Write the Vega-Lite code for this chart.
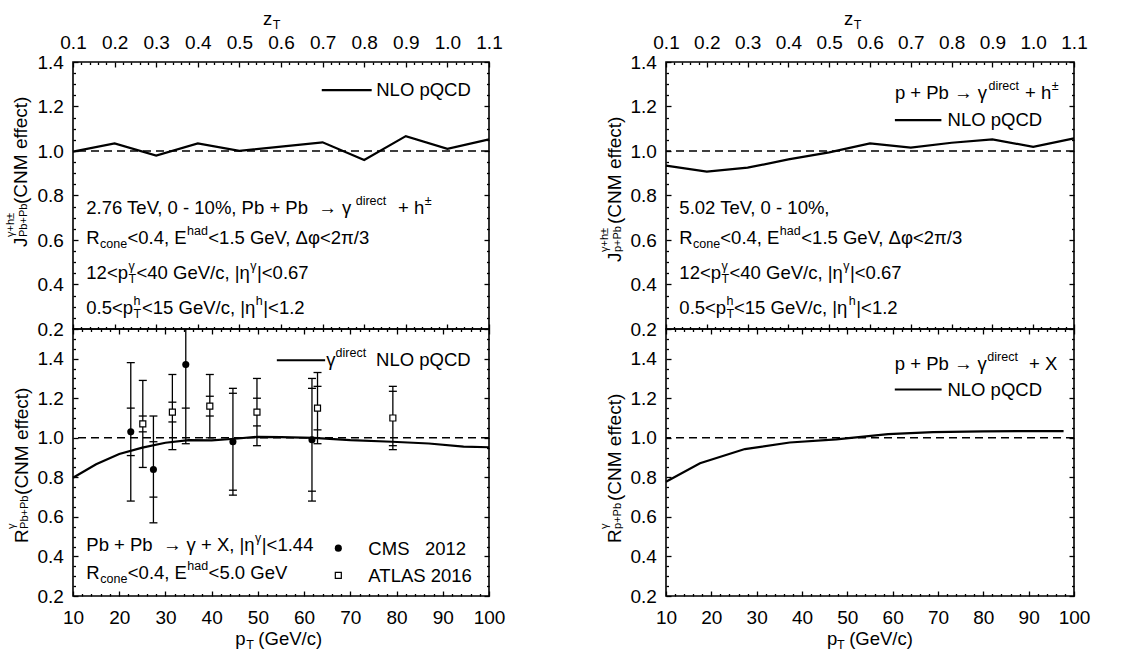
{
"$schema": "https://vega.github.io/schema/vega-lite/v6.json",
"padding": {"left": 4, "top": 8, "right": 5, "bottom": 2},
"config": {
 "view": {"stroke": "black", "strokeWidth": 1.6},
 "font": "Liberation Sans",
 "axis": {"labelFont": "Liberation Sans", "labelFontSize": 19, "labelColor": "black", "tickColor": "black", "tickWidth": 1.3, "domain": false, "grid": false, "labelFlush": false, "labelOverlap": false}
},
"datasets": {
 "ref": [{"v": 1}],
 "jPbPb": [{"z":0.1,"r":0.997},{"z":0.2,"r":1.034},{"z":0.3,"r":0.979},{"z":0.4,"r":1.034},{"z":0.5,"r":1.001},{"z":0.6,"r":1.02},{"z":0.7,"r":1.039},{"z":0.8,"r":0.96},{"z":0.9,"r":1.067},{"z":1.0,"r":1.01},{"z":1.1,"r":1.052}],
 "jpPb": [{"z":0.1,"r":0.934},{"z":0.2,"r":0.907},{"z":0.3,"r":0.925},{"z":0.4,"r":0.962},{"z":0.5,"r":0.994},{"z":0.6,"r":1.034},{"z":0.7,"r":1.015},{"z":0.8,"r":1.037},{"z":0.9,"r":1.052},{"z":1.0,"r":1.019},{"z":1.1,"r":1.057}],
 "rPbPb": [{"pt":10,"r":0.798},{"pt":15,"r":0.866},{"pt":20,"r":0.918},{"pt":25,"r":0.95},{"pt":30,"r":0.975},{"pt":35,"r":0.988},{"pt":40,"r":0.987},{"pt":45,"r":0.995},{"pt":50,"r":1.005},{"pt":55,"r":1.003},{"pt":62,"r":1.0},{"pt":70,"r":0.988},{"pt":79,"r":0.98},{"pt":87,"r":0.971},{"pt":94.5,"r":0.955},{"pt":100,"r":0.952}],
 "rpPb": [{"pt":10,"r":0.778},{"pt":17.5,"r":0.871},{"pt":27.4,"r":0.943},{"pt":37.3,"r":0.976},{"pt":47.6,"r":0.992},{"pt":59,"r":1.018},{"pt":68.9,"r":1.029},{"pt":80,"r":1.032},{"pt":90,"r":1.034},{"pt":97.7,"r":1.034}],
 "cms": [{"pt":22.5,"r":1.03,"lo":0.68,"hi":1.38,"slo":0.91,"shi":1.15},{"pt":27.4,"r":0.84,"lo":0.57,"hi":1.11,"slo":0.7,"shi":0.98},{"pt":34.4,"r":1.37,"lo":0.97,"hi":1.77,"slo":1.15,"shi":1.59},{"pt":44.6,"r":0.98,"lo":0.71,"hi":1.25,"slo":0.735,"shi":1.225},{"pt":61.7,"r":0.99,"lo":0.68,"hi":1.3,"slo":0.73,"shi":1.25}],
 "atlas": [{"pt":25.1,"r":1.07,"lo":0.85,"hi":1.29,"slo":1.03,"shi":1.11},{"pt":31.5,"r":1.13,"lo":0.94,"hi":1.32,"slo":1.08,"shi":1.18},{"pt":39.6,"r":1.16,"lo":1.0,"hi":1.32,"slo":1.11,"shi":1.21},{"pt":49.8,"r":1.13,"lo":0.96,"hi":1.3,"slo":1.06,"shi":1.2},{"pt":62.9,"r":1.15,"lo":0.97,"hi":1.33,"slo":1.04,"shi":1.26},{"pt":79.2,"r":1.1,"lo":0.94,"hi":1.26,"slo":0.96,"shi":1.235}],
 "legCMS": [{"pt":67.4,"r":0.442}],
 "legATLAS": [{"pt":67.4,"r":0.304}],
 "legTL": [{"x1":0.698,"x2":0.818,"y":1.274}],
 "legBL": [{"x1":54.1,"x2":64.55,"y":1.392}],
 "legTR": [{"x1":0.661,"x2":0.775,"y":1.139}],
 "legBR": [{"x1":60.47,"x2":70.8,"y":1.244}],
 "tTL": [
  {"k":"n","t":"NLO pQCD","x":0.829,"y":1.274},
  {"k":"n","t":"2.76 TeV, 0 - 10%, Pb + Pb \u00a0→ γ","x":0.132,"y":0.742},
  {"k":"sup","t":"direct","x":0.7796,"y":0.742},
  {"k":"n","t":"+ h","x":0.8813,"y":0.742},
  {"k":"sup","t":"±","x":0.9454,"y":0.742},
  {"k":"n","t":"R","x":0.132,"y":0.607},
  {"k":"sub","t":"cone","x":0.1649,"y":0.607},
  {"k":"n","t":"<0.4, E","x":0.231,"y":0.607},
  {"k":"sup","t":"had","x":0.374,"y":0.607},
  {"k":"n","t":"<1.5 GeV, Δφ<2π/3","x":0.4252,"y":0.607},
  {"k":"n","t":"12<p","x":0.132,"y":0.45},
  {"k":"sup","t":"γ","x":0.2334,"y":0.45},
  {"k":"sub","t":"T","x":0.2334,"y":0.45},
  {"k":"n","t":"<40 GeV/c, |η","x":0.2526,"y":0.45},
  {"k":"sup","t":"γ","x":0.5262,"y":0.45},
  {"k":"n","t":"|<0.67","x":0.5423,"y":0.45},
  {"k":"n","t":"0.5<p","x":0.132,"y":0.293},
  {"k":"sup","t":"h","x":0.2457,"y":0.293},
  {"k":"sub","t":"T","x":0.2457,"y":0.293},
  {"k":"n","t":"<15 GeV/c, |η","x":0.2659,"y":0.293},
  {"k":"sup","t":"h","x":0.5394,"y":0.293},
  {"k":"n","t":"|<1.2","x":0.5574,"y":0.293},
  {"k":"n","t":"z","x":0.557,"y":1.595},
  {"k":"sub","t":"T","x":0.58,"y":1.595},
  {"k":"rn","t":"J","x":-0.0238,"y":0.569},
  {"k":"rsup","t":"γ+h±","x":-0.0238,"y":0.6135},
  {"k":"rsub","t":"Pb+Pb","x":-0.0238,"y":0.6135},
  {"k":"rn","t":"(CNM effect)","x":-0.0238,"y":0.762}
 ],
 "tBL": [
  {"k":"n","t":"γ","x":64.77,"y":1.392},
  {"k":"sup","t":"direct","x":66.8,"y":1.392},
  {"k":"n","t":"NLO pQCD","x":75.57,"y":1.392},
  {"k":"n","t":"Pb + Pb \u00a0→ γ + X, |η","x":12.88,"y":0.457},
  {"k":"sup","t":"γ","x":49.4,"y":0.457},
  {"k":"n","t":"|<1.44","x":50.85,"y":0.457},
  {"k":"n","t":"R","x":12.88,"y":0.316},
  {"k":"sub","t":"cone","x":15.91,"y":0.316},
  {"k":"n","t":"<0.4, E","x":21.86,"y":0.316},
  {"k":"sup","t":"had","x":34.73,"y":0.316},
  {"k":"n","t":"<5.0 GeV","x":39.34,"y":0.316},
  {"k":"n","t":"CMS\u00a0\u00a0\u00a02012","x":73.9,"y":0.44},
  {"k":"n","t":"ATLAS 2016","x":73.9,"y":0.302},
  {"k":"n","t":"p","x":45.1,"y":-0.018},
  {"k":"sub","t":"T","x":47.5,"y":-0.018},
  {"k":"n","t":"(GeV/c)","x":50.1,"y":-0.018},
  {"k":"rn","t":"R","x":-1.08,"y":0.468},
  {"k":"rsup","t":"γ","x":-1.08,"y":0.539},
  {"k":"rsub","t":"Pb+Pb","x":-1.08,"y":0.539},
  {"k":"rn","t":"(CNM effect)","x":-1.08,"y":0.711}
 ],
 "tTR": [
  {"k":"n","t":"p + Pb → γ","x":0.661,"y":1.259},
  {"k":"sup","t":"direct","x":0.8904,"y":1.259},
  {"k":"n","t":"+ h","x":0.98,"y":1.259},
  {"k":"sup","t":"±","x":1.0453,"y":1.259},
  {"k":"n","t":"NLO pQCD","x":0.79,"y":1.139},
  {"k":"n","t":"5.02 TeV, 0 - 10%,","x":0.1327,"y":0.742},
  {"k":"n","t":"R","x":0.1327,"y":0.607},
  {"k":"sub","t":"cone","x":0.1662,"y":0.607},
  {"k":"n","t":"<0.4, E","x":0.2331,"y":0.607},
  {"k":"sup","t":"had","x":0.3789,"y":0.607},
  {"k":"n","t":"<1.5 GeV, Δφ<2π/3","x":0.4316,"y":0.607},
  {"k":"n","t":"12<p","x":0.1327,"y":0.45},
  {"k":"sup","t":"γ","x":0.236,"y":0.45},
  {"k":"sub","t":"T","x":0.236,"y":0.45},
  {"k":"n","t":"<40 GeV/c, |η","x":0.2556,"y":0.45},
  {"k":"sup","t":"γ","x":0.5346,"y":0.45},
  {"k":"n","t":"|<0.67","x":0.551,"y":0.45},
  {"k":"n","t":"0.5<p","x":0.1327,"y":0.293},
  {"k":"sup","t":"h","x":0.2485,"y":0.293},
  {"k":"sub","t":"T","x":0.2485,"y":0.293},
  {"k":"n","t":"<15 GeV/c, |η","x":0.2667,"y":0.293},
  {"k":"sup","t":"h","x":0.548,"y":0.293},
  {"k":"n","t":"|<1.2","x":0.5664,"y":0.293},
  {"k":"n","t":"z","x":0.536,"y":1.595},
  {"k":"sub","t":"T","x":0.56,"y":1.595},
  {"k":"rn","t":"J","x":-0.025,"y":0.501},
  {"k":"rsup","t":"γ+h±","x":-0.025,"y":0.546},
  {"k":"rsub","t":"p+Pb","x":-0.025,"y":0.546},
  {"k":"rn","t":"(CNM effect)","x":-0.025,"y":0.672}
 ],
 "tBR": [
  {"k":"n","t":"p + Pb → γ","x":60.47,"y":1.375},
  {"k":"sup","t":"direct","x":80.88,"y":1.375},
  {"k":"n","t":"+ X","x":90.08,"y":1.375},
  {"k":"n","t":"NLO pQCD","x":72.08,"y":1.244},
  {"k":"n","t":"p","x":45.5,"y":-0.018},
  {"k":"sub","t":"T","x":47.7,"y":-0.018},
  {"k":"n","t":"(GeV/c)","x":50.4,"y":-0.018},
  {"k":"rn","t":"R","x":-1.25,"y":0.468},
  {"k":"rsup","t":"γ","x":-1.25,"y":0.539},
  {"k":"rsub","t":"p+Pb","x":-1.25,"y":0.539},
  {"k":"rn","t":"(CNM effect)","x":-1.25,"y":0.68}
 ]
},
"bounds": "flush",
"columns": 2,
"spacing": {"row": 0, "column": 177},
"concat": [
  {"width": 416, "height": 267,
   "resolve": {"axis": {"x": "independent", "y": "independent"}},
   "layer": [
    {"data":{"name":"jPbPb"},"mark":{"type":"line","color":"black","strokeWidth":2.2},
     "encoding":{"x":{"field":"z","type":"quantitative","scale":{"domain":[0.1,1.1],"nice":false,"zero":false},"axis":{"orient":"top","values":[0.1,0.2,0.3,0.4,0.5,0.6,0.7,0.8,0.9,1.0,1.1],"format":".1f","tickSize":-5,"labelPadding":14.7,"title":null}},
                 "y":{"field":"r","type":"quantitative","scale":{"domain":[0.2,1.4],"nice":false,"zero":false},"axis":{"orient":"left","values":[0.2,0.4,0.6,0.8,1.0,1.2,1.4],"format":".1f","tickSize":-5,"labelPadding":14.7,"title":null}}}},
    {"data":{"name":"jPbPb"},"mark":{"type":"point","opacity":0},
     "encoding":{"x":{"field":"z","type":"quantitative","scale":{"domain":[0.1,1.1],"nice":false,"zero":false},"axis":{"orient":"top","values":[0.12,0.14,0.16,0.18,0.22,0.24,0.26,0.28,0.32,0.34,0.36,0.38,0.42,0.44,0.46,0.48,0.52,0.54,0.56,0.58,0.62,0.64,0.66,0.68,0.72,0.74,0.76,0.78,0.82,0.84,0.86,0.88,0.92,0.94,0.96,0.98,1.02,1.04,1.06,1.08],"tickSize":-2.5,"labels":false,"title":null}},
                 "y":{"field":"r","type":"quantitative","scale":{"domain":[0.2,1.4],"nice":false,"zero":false},"axis":{"orient":"left","values":[0.25,0.3,0.35,0.45,0.5,0.55,0.65,0.7,0.75,0.85,0.9,0.95,1.05,1.1,1.15,1.25,1.3,1.35],"tickSize":-2.5,"labels":false,"title":null}}}},
    {"data":{"name":"jPbPb"},"mark":{"type":"point","opacity":0},
     "encoding":{"x":{"field":"z","type":"quantitative","scale":{"domain":[0.1,1.1],"nice":false,"zero":false},"axis":{"orient":"bottom","values":[0.1,0.2,0.3,0.4,0.5,0.6,0.7,0.8,0.9,1.0,1.1],"tickSize":-5,"labels":false,"title":null}},
                 "y":{"field":"r","type":"quantitative","scale":{"domain":[0.2,1.4],"nice":false,"zero":false},"axis":{"orient":"right","values":[0.2,0.4,0.6,0.8,1.0,1.2,1.4],"tickSize":-5,"labels":false,"title":null}}}},
    {"data":{"name":"jPbPb"},"mark":{"type":"point","opacity":0},
     "encoding":{"x":{"field":"z","type":"quantitative","scale":{"domain":[0.1,1.1],"nice":false,"zero":false},"axis":{"orient":"bottom","values":[0.12,0.14,0.16,0.18,0.22,0.24,0.26,0.28,0.32,0.34,0.36,0.38,0.42,0.44,0.46,0.48,0.52,0.54,0.56,0.58,0.62,0.64,0.66,0.68,0.72,0.74,0.76,0.78,0.82,0.84,0.86,0.88,0.92,0.94,0.96,0.98,1.02,1.04,1.06,1.08],"tickSize":-2.5,"labels":false,"title":null}},
                 "y":{"field":"r","type":"quantitative","scale":{"domain":[0.2,1.4],"nice":false,"zero":false},"axis":{"orient":"right","values":[0.25,0.3,0.35,0.45,0.5,0.55,0.65,0.7,0.75,0.85,0.9,0.95,1.05,1.1,1.15,1.25,1.3,1.35],"tickSize":-2.5,"labels":false,"title":null}}}},
    {"data":{"name":"ref"},"mark":{"type":"rule","color":"black","strokeWidth":1.5,"strokeDash":[8,5]},
     "encoding":{"y":{"field":"v","type":"quantitative","scale":{"domain":[0.2,1.4],"nice":false,"zero":false},"axis":null}}},
    {"data":{"name":"legTL"},"mark":{"type":"rule","color":"black","strokeWidth":2.2},
     "encoding":{"x":{"field":"x1","type":"quantitative","scale":{"domain":[0.1,1.1],"nice":false,"zero":false},"axis":null},"x2":{"field":"x2"},"y":{"field":"y","type":"quantitative","scale":{"domain":[0.2,1.4],"nice":false,"zero":false},"axis":null}}},
    {"data":{"name":"tTL"},"transform":[{"filter":"datum.k=='n'"}],"mark":{"type":"text","align":"left","baseline":"middle","fontSize":18.5,"font":"Liberation Sans","color":"black"},
     "encoding":{"x":{"field":"x","type":"quantitative","scale":{"domain":[0.1,1.1],"nice":false,"zero":false},"axis":null},"y":{"field":"y","type":"quantitative","scale":{"domain":[0.2,1.4],"nice":false,"zero":false},"axis":null},"text":{"field":"t"}}},
    {"data":{"name":"tTL"},"transform":[{"filter":"datum.k=='sup'"}],"mark":{"type":"text","align":"left","baseline":"middle","fontSize":12.5,"dy":-7,"font":"Liberation Sans","color":"black"},
     "encoding":{"x":{"field":"x","type":"quantitative","scale":{"domain":[0.1,1.1],"nice":false,"zero":false},"axis":null},"y":{"field":"y","type":"quantitative","scale":{"domain":[0.2,1.4],"nice":false,"zero":false},"axis":null},"text":{"field":"t"}}},
    {"data":{"name":"tTL"},"transform":[{"filter":"datum.k=='sub'"}],"mark":{"type":"text","align":"left","baseline":"middle","fontSize":12.5,"dy":6,"font":"Liberation Sans","color":"black"},
     "encoding":{"x":{"field":"x","type":"quantitative","scale":{"domain":[0.1,1.1],"nice":false,"zero":false},"axis":null},"y":{"field":"y","type":"quantitative","scale":{"domain":[0.2,1.4],"nice":false,"zero":false},"axis":null},"text":{"field":"t"}}},
    {"data":{"name":"tTL"},"transform":[{"filter":"datum.k=='rn'"}],"mark":{"type":"text","align":"left","baseline":"middle","angle":270,"fontSize":19,"font":"Liberation Sans","color":"black"},
     "encoding":{"x":{"field":"x","type":"quantitative","scale":{"domain":[0.1,1.1],"nice":false,"zero":false},"axis":null},"y":{"field":"y","type":"quantitative","scale":{"domain":[0.2,1.4],"nice":false,"zero":false},"axis":null},"text":{"field":"t"}}},
    {"data":{"name":"tTL"},"transform":[{"filter":"datum.k=='rsup'"}],"mark":{"type":"text","align":"left","baseline":"middle","angle":270,"fontSize":11,"dy":-10,"font":"Liberation Sans","color":"black"},
     "encoding":{"x":{"field":"x","type":"quantitative","scale":{"domain":[0.1,1.1],"nice":false,"zero":false},"axis":null},"y":{"field":"y","type":"quantitative","scale":{"domain":[0.2,1.4],"nice":false,"zero":false},"axis":null},"text":{"field":"t"}}},
    {"data":{"name":"tTL"},"transform":[{"filter":"datum.k=='rsub'"}],"mark":{"type":"text","align":"left","baseline":"middle","angle":270,"fontSize":11,"dy":3,"font":"Liberation Sans","color":"black"},
     "encoding":{"x":{"field":"x","type":"quantitative","scale":{"domain":[0.1,1.1],"nice":false,"zero":false},"axis":null},"y":{"field":"y","type":"quantitative","scale":{"domain":[0.2,1.4],"nice":false,"zero":false},"axis":null},"text":{"field":"t"}}}
   ]},
  {"width": 408, "height": 267,
   "resolve": {"axis": {"x": "independent", "y": "independent"}},
   "layer": [
    {"data":{"name":"jpPb"},"mark":{"type":"line","color":"black","strokeWidth":2.2},
     "encoding":{"x":{"field":"z","type":"quantitative","scale":{"domain":[0.1,1.1],"nice":false,"zero":false},"axis":{"orient":"top","values":[0.1,0.2,0.3,0.4,0.5,0.6,0.7,0.8,0.9,1.0,1.1],"format":".1f","tickSize":-5,"labelPadding":14.7,"title":null}},
                 "y":{"field":"r","type":"quantitative","scale":{"domain":[0.2,1.4],"nice":false,"zero":false},"axis":{"orient":"left","values":[0.2,0.4,0.6,0.8,1.0,1.2,1.4],"format":".1f","tickSize":-5,"labelPadding":14.7,"title":null}}}},
    {"data":{"name":"jpPb"},"mark":{"type":"point","opacity":0},
     "encoding":{"x":{"field":"z","type":"quantitative","scale":{"domain":[0.1,1.1],"nice":false,"zero":false},"axis":{"orient":"top","values":[0.12,0.14,0.16,0.18,0.22,0.24,0.26,0.28,0.32,0.34,0.36,0.38,0.42,0.44,0.46,0.48,0.52,0.54,0.56,0.58,0.62,0.64,0.66,0.68,0.72,0.74,0.76,0.78,0.82,0.84,0.86,0.88,0.92,0.94,0.96,0.98,1.02,1.04,1.06,1.08],"tickSize":-2.5,"labels":false,"title":null}},
                 "y":{"field":"r","type":"quantitative","scale":{"domain":[0.2,1.4],"nice":false,"zero":false},"axis":{"orient":"left","values":[0.25,0.3,0.35,0.45,0.5,0.55,0.65,0.7,0.75,0.85,0.9,0.95,1.05,1.1,1.15,1.25,1.3,1.35],"tickSize":-2.5,"labels":false,"title":null}}}},
    {"data":{"name":"jpPb"},"mark":{"type":"point","opacity":0},
     "encoding":{"x":{"field":"z","type":"quantitative","scale":{"domain":[0.1,1.1],"nice":false,"zero":false},"axis":{"orient":"bottom","values":[0.1,0.2,0.3,0.4,0.5,0.6,0.7,0.8,0.9,1.0,1.1],"tickSize":-5,"labels":false,"title":null}},
                 "y":{"field":"r","type":"quantitative","scale":{"domain":[0.2,1.4],"nice":false,"zero":false},"axis":{"orient":"right","values":[0.2,0.4,0.6,0.8,1.0,1.2,1.4],"tickSize":-5,"labels":false,"title":null}}}},
    {"data":{"name":"jpPb"},"mark":{"type":"point","opacity":0},
     "encoding":{"x":{"field":"z","type":"quantitative","scale":{"domain":[0.1,1.1],"nice":false,"zero":false},"axis":{"orient":"bottom","values":[0.12,0.14,0.16,0.18,0.22,0.24,0.26,0.28,0.32,0.34,0.36,0.38,0.42,0.44,0.46,0.48,0.52,0.54,0.56,0.58,0.62,0.64,0.66,0.68,0.72,0.74,0.76,0.78,0.82,0.84,0.86,0.88,0.92,0.94,0.96,0.98,1.02,1.04,1.06,1.08],"tickSize":-2.5,"labels":false,"title":null}},
                 "y":{"field":"r","type":"quantitative","scale":{"domain":[0.2,1.4],"nice":false,"zero":false},"axis":{"orient":"right","values":[0.25,0.3,0.35,0.45,0.5,0.55,0.65,0.7,0.75,0.85,0.9,0.95,1.05,1.1,1.15,1.25,1.3,1.35],"tickSize":-2.5,"labels":false,"title":null}}}},
    {"data":{"name":"ref"},"mark":{"type":"rule","color":"black","strokeWidth":1.5,"strokeDash":[8,5]},
     "encoding":{"y":{"field":"v","type":"quantitative","scale":{"domain":[0.2,1.4],"nice":false,"zero":false},"axis":null}}},
    {"data":{"name":"legTR"},"mark":{"type":"rule","color":"black","strokeWidth":2.2},
     "encoding":{"x":{"field":"x1","type":"quantitative","scale":{"domain":[0.1,1.1],"nice":false,"zero":false},"axis":null},"x2":{"field":"x2"},"y":{"field":"y","type":"quantitative","scale":{"domain":[0.2,1.4],"nice":false,"zero":false},"axis":null}}},
    {"data":{"name":"tTR"},"transform":[{"filter":"datum.k=='n'"}],"mark":{"type":"text","align":"left","baseline":"middle","fontSize":18.5,"font":"Liberation Sans","color":"black"},
     "encoding":{"x":{"field":"x","type":"quantitative","scale":{"domain":[0.1,1.1],"nice":false,"zero":false},"axis":null},"y":{"field":"y","type":"quantitative","scale":{"domain":[0.2,1.4],"nice":false,"zero":false},"axis":null},"text":{"field":"t"}}},
    {"data":{"name":"tTR"},"transform":[{"filter":"datum.k=='sup'"}],"mark":{"type":"text","align":"left","baseline":"middle","fontSize":12.5,"dy":-7,"font":"Liberation Sans","color":"black"},
     "encoding":{"x":{"field":"x","type":"quantitative","scale":{"domain":[0.1,1.1],"nice":false,"zero":false},"axis":null},"y":{"field":"y","type":"quantitative","scale":{"domain":[0.2,1.4],"nice":false,"zero":false},"axis":null},"text":{"field":"t"}}},
    {"data":{"name":"tTR"},"transform":[{"filter":"datum.k=='sub'"}],"mark":{"type":"text","align":"left","baseline":"middle","fontSize":12.5,"dy":6,"font":"Liberation Sans","color":"black"},
     "encoding":{"x":{"field":"x","type":"quantitative","scale":{"domain":[0.1,1.1],"nice":false,"zero":false},"axis":null},"y":{"field":"y","type":"quantitative","scale":{"domain":[0.2,1.4],"nice":false,"zero":false},"axis":null},"text":{"field":"t"}}},
    {"data":{"name":"tTR"},"transform":[{"filter":"datum.k=='rn'"}],"mark":{"type":"text","align":"left","baseline":"middle","angle":270,"fontSize":19,"font":"Liberation Sans","color":"black"},
     "encoding":{"x":{"field":"x","type":"quantitative","scale":{"domain":[0.1,1.1],"nice":false,"zero":false},"axis":null},"y":{"field":"y","type":"quantitative","scale":{"domain":[0.2,1.4],"nice":false,"zero":false},"axis":null},"text":{"field":"t"}}},
    {"data":{"name":"tTR"},"transform":[{"filter":"datum.k=='rsup'"}],"mark":{"type":"text","align":"left","baseline":"middle","angle":270,"fontSize":11,"dy":-10,"font":"Liberation Sans","color":"black"},
     "encoding":{"x":{"field":"x","type":"quantitative","scale":{"domain":[0.1,1.1],"nice":false,"zero":false},"axis":null},"y":{"field":"y","type":"quantitative","scale":{"domain":[0.2,1.4],"nice":false,"zero":false},"axis":null},"text":{"field":"t"}}},
    {"data":{"name":"tTR"},"transform":[{"filter":"datum.k=='rsub'"}],"mark":{"type":"text","align":"left","baseline":"middle","angle":270,"fontSize":11,"dy":3,"font":"Liberation Sans","color":"black"},
     "encoding":{"x":{"field":"x","type":"quantitative","scale":{"domain":[0.1,1.1],"nice":false,"zero":false},"axis":null},"y":{"field":"y","type":"quantitative","scale":{"domain":[0.2,1.4],"nice":false,"zero":false},"axis":null},"text":{"field":"t"}}}
   ]},
  {"width": 416, "height": 267,
   "resolve": {"axis": {"x": "independent", "y": "independent"}},
   "layer": [
    {"data":{"name":"rPbPb"},"mark":{"type":"line","color":"black","strokeWidth":2.2},
     "encoding":{"x":{"field":"pt","type":"quantitative","scale":{"domain":[10,100],"nice":false,"zero":false},"axis":{"orient":"bottom","values":[10,20,30,40,50,60,70,80,90,100],"format":"d","tickSize":-5,"labelPadding":17.4,"title":null}},
                 "y":{"field":"r","type":"quantitative","scale":{"domain":[0.2,1.55],"nice":false,"zero":false},"axis":{"orient":"left","values":[0.2,0.4,0.6,0.8,1.0,1.2,1.4],"format":".1f","tickSize":-5,"labelPadding":14.7,"title":null}}}},
    {"data":{"name":"rPbPb"},"mark":{"type":"point","opacity":0},
     "encoding":{"x":{"field":"pt","type":"quantitative","scale":{"domain":[10,100],"nice":false,"zero":false},"axis":{"orient":"bottom","values":[12,14,16,18,22,24,26,28,32,34,36,38,42,44,46,48,52,54,56,58,62,64,66,68,72,74,76,78,82,84,86,88,92,94,96,98],"tickSize":-2.5,"labels":false,"title":null}},
                 "y":{"field":"r","type":"quantitative","scale":{"domain":[0.2,1.55],"nice":false,"zero":false},"axis":{"orient":"left","values":[0.25,0.3,0.35,0.45,0.5,0.55,0.65,0.7,0.75,0.85,0.9,0.95,1.05,1.1,1.15,1.25,1.3,1.35,1.45,1.5],"tickSize":-2.5,"labels":false,"title":null}}}},
    {"data":{"name":"rPbPb"},"mark":{"type":"point","opacity":0},
     "encoding":{"x":{"field":"pt","type":"quantitative","scale":{"domain":[10,100],"nice":false,"zero":false},"axis":{"orient":"top","values":[10,20,30,40,50,60,70,80,90,100],"tickSize":-5,"labels":false,"title":null}},
                 "y":{"field":"r","type":"quantitative","scale":{"domain":[0.2,1.55],"nice":false,"zero":false},"axis":{"orient":"right","values":[0.2,0.4,0.6,0.8,1.0,1.2,1.4],"tickSize":-5,"labels":false,"title":null}}}},
    {"data":{"name":"rPbPb"},"mark":{"type":"point","opacity":0},
     "encoding":{"x":{"field":"pt","type":"quantitative","scale":{"domain":[10,100],"nice":false,"zero":false},"axis":{"orient":"top","values":[12,14,16,18,22,24,26,28,32,34,36,38,42,44,46,48,52,54,56,58,62,64,66,68,72,74,76,78,82,84,86,88,92,94,96,98],"tickSize":-2.5,"labels":false,"title":null}},
                 "y":{"field":"r","type":"quantitative","scale":{"domain":[0.2,1.55],"nice":false,"zero":false},"axis":{"orient":"right","values":[0.25,0.3,0.35,0.45,0.5,0.55,0.65,0.7,0.75,0.85,0.9,0.95,1.05,1.1,1.15,1.25,1.3,1.35,1.45,1.5],"tickSize":-2.5,"labels":false,"title":null}}}},
    {"data":{"name":"ref"},"mark":{"type":"rule","color":"black","strokeWidth":1.5,"strokeDash":[8,5]},
     "encoding":{"y":{"field":"v","type":"quantitative","scale":{"domain":[0.2,1.55],"nice":false,"zero":false},"axis":null}}},
    {"data":{"name":"cms"},"mark":{"type":"rule","color":"black","strokeWidth":1.3,"clip":true},
     "encoding":{"x":{"field":"pt","type":"quantitative","scale":{"domain":[10,100],"nice":false,"zero":false},"axis":null},"y":{"field":"lo","type":"quantitative","scale":{"domain":[0.2,1.55],"nice":false,"zero":false},"axis":null},"y2":{"field":"hi"}}},
    {"data":{"name":"atlas"},"mark":{"type":"rule","color":"black","strokeWidth":1.3,"clip":true},
     "encoding":{"x":{"field":"pt","type":"quantitative","scale":{"domain":[10,100],"nice":false,"zero":false},"axis":null},"y":{"field":"lo","type":"quantitative","scale":{"domain":[0.2,1.55],"nice":false,"zero":false},"axis":null},"y2":{"field":"hi"}}},
    {"data":{"name":"cms"},"transform":[{"fold":["lo","hi","slo","shi"],"as":["key","val"]}],"mark":{"type":"tick","orient":"horizontal","color":"black","size":8,"thickness":1.3,"opacity":1,"clip":true},
     "encoding":{"x":{"field":"pt","type":"quantitative","scale":{"domain":[10,100],"nice":false,"zero":false},"axis":null},"y":{"field":"val","type":"quantitative","scale":{"domain":[0.2,1.55],"nice":false,"zero":false},"axis":null}}},
    {"data":{"name":"atlas"},"transform":[{"fold":["lo","hi","slo","shi"],"as":["key","val"]}],"mark":{"type":"tick","orient":"horizontal","color":"black","size":8,"thickness":1.3,"opacity":1,"clip":true},
     "encoding":{"x":{"field":"pt","type":"quantitative","scale":{"domain":[10,100],"nice":false,"zero":false},"axis":null},"y":{"field":"val","type":"quantitative","scale":{"domain":[0.2,1.55],"nice":false,"zero":false},"axis":null}}},
    {"data":{"name":"cms"},"mark":{"type":"point","shape":"circle","filled":true,"color":"black","size":50,"opacity":1},
     "encoding":{"x":{"field":"pt","type":"quantitative","scale":{"domain":[10,100],"nice":false,"zero":false},"axis":null},"y":{"field":"r","type":"quantitative","scale":{"domain":[0.2,1.55],"nice":false,"zero":false},"axis":null}}},
    {"data":{"name":"atlas"},"mark":{"type":"point","shape":"square","filled":true,"fill":"white","stroke":"black","strokeWidth":1.2,"size":36,"opacity":1},
     "encoding":{"x":{"field":"pt","type":"quantitative","scale":{"domain":[10,100],"nice":false,"zero":false},"axis":null},"y":{"field":"r","type":"quantitative","scale":{"domain":[0.2,1.55],"nice":false,"zero":false},"axis":null}}},
    {"data":{"name":"legCMS"},"mark":{"type":"point","shape":"circle","filled":true,"color":"black","size":50,"opacity":1},
     "encoding":{"x":{"field":"pt","type":"quantitative","scale":{"domain":[10,100],"nice":false,"zero":false},"axis":null},"y":{"field":"r","type":"quantitative","scale":{"domain":[0.2,1.55],"nice":false,"zero":false},"axis":null}}},
    {"data":{"name":"legATLAS"},"mark":{"type":"point","shape":"square","filled":true,"fill":"white","stroke":"black","strokeWidth":1.2,"size":36,"opacity":1},
     "encoding":{"x":{"field":"pt","type":"quantitative","scale":{"domain":[10,100],"nice":false,"zero":false},"axis":null},"y":{"field":"r","type":"quantitative","scale":{"domain":[0.2,1.55],"nice":false,"zero":false},"axis":null}}},
    {"data":{"name":"legBL"},"mark":{"type":"rule","color":"black","strokeWidth":2.2},
     "encoding":{"x":{"field":"x1","type":"quantitative","scale":{"domain":[10,100],"nice":false,"zero":false},"axis":null},"x2":{"field":"x2"},"y":{"field":"y","type":"quantitative","scale":{"domain":[0.2,1.55],"nice":false,"zero":false},"axis":null}}},
    {"data":{"name":"tBL"},"transform":[{"filter":"datum.k=='n'"}],"mark":{"type":"text","align":"left","baseline":"middle","fontSize":18.5,"font":"Liberation Sans","color":"black"},
     "encoding":{"x":{"field":"x","type":"quantitative","scale":{"domain":[10,100],"nice":false,"zero":false},"axis":null},"y":{"field":"y","type":"quantitative","scale":{"domain":[0.2,1.55],"nice":false,"zero":false},"axis":null},"text":{"field":"t"}}},
    {"data":{"name":"tBL"},"transform":[{"filter":"datum.k=='sup'"}],"mark":{"type":"text","align":"left","baseline":"middle","fontSize":12.5,"dy":-7,"font":"Liberation Sans","color":"black"},
     "encoding":{"x":{"field":"x","type":"quantitative","scale":{"domain":[10,100],"nice":false,"zero":false},"axis":null},"y":{"field":"y","type":"quantitative","scale":{"domain":[0.2,1.55],"nice":false,"zero":false},"axis":null},"text":{"field":"t"}}},
    {"data":{"name":"tBL"},"transform":[{"filter":"datum.k=='sub'"}],"mark":{"type":"text","align":"left","baseline":"middle","fontSize":12.5,"dy":6,"font":"Liberation Sans","color":"black"},
     "encoding":{"x":{"field":"x","type":"quantitative","scale":{"domain":[10,100],"nice":false,"zero":false},"axis":null},"y":{"field":"y","type":"quantitative","scale":{"domain":[0.2,1.55],"nice":false,"zero":false},"axis":null},"text":{"field":"t"}}},
    {"data":{"name":"tBL"},"transform":[{"filter":"datum.k=='rn'"}],"mark":{"type":"text","align":"left","baseline":"middle","angle":270,"fontSize":19,"font":"Liberation Sans","color":"black"},
     "encoding":{"x":{"field":"x","type":"quantitative","scale":{"domain":[10,100],"nice":false,"zero":false},"axis":null},"y":{"field":"y","type":"quantitative","scale":{"domain":[0.2,1.55],"nice":false,"zero":false},"axis":null},"text":{"field":"t"}}},
    {"data":{"name":"tBL"},"transform":[{"filter":"datum.k=='rsup'"}],"mark":{"type":"text","align":"left","baseline":"middle","angle":270,"fontSize":11,"dy":-10,"font":"Liberation Sans","color":"black"},
     "encoding":{"x":{"field":"x","type":"quantitative","scale":{"domain":[10,100],"nice":false,"zero":false},"axis":null},"y":{"field":"y","type":"quantitative","scale":{"domain":[0.2,1.55],"nice":false,"zero":false},"axis":null},"text":{"field":"t"}}},
    {"data":{"name":"tBL"},"transform":[{"filter":"datum.k=='rsub'"}],"mark":{"type":"text","align":"left","baseline":"middle","angle":270,"fontSize":11,"dy":3,"font":"Liberation Sans","color":"black"},
     "encoding":{"x":{"field":"x","type":"quantitative","scale":{"domain":[10,100],"nice":false,"zero":false},"axis":null},"y":{"field":"y","type":"quantitative","scale":{"domain":[0.2,1.55],"nice":false,"zero":false},"axis":null},"text":{"field":"t"}}}
   ]},
  {"width": 408, "height": 267,
   "resolve": {"axis": {"x": "independent", "y": "independent"}},
   "layer": [
    {"data":{"name":"rpPb"},"mark":{"type":"line","color":"black","strokeWidth":2.2},
     "encoding":{"x":{"field":"pt","type":"quantitative","scale":{"domain":[10,100],"nice":false,"zero":false},"axis":{"orient":"bottom","values":[10,20,30,40,50,60,70,80,90,100],"format":"d","tickSize":-5,"labelPadding":17.4,"title":null}},
                 "y":{"field":"r","type":"quantitative","scale":{"domain":[0.2,1.55],"nice":false,"zero":false},"axis":{"orient":"left","values":[0.2,0.4,0.6,0.8,1.0,1.2,1.4],"format":".1f","tickSize":-5,"labelPadding":14.7,"title":null}}}},
    {"data":{"name":"rpPb"},"mark":{"type":"point","opacity":0},
     "encoding":{"x":{"field":"pt","type":"quantitative","scale":{"domain":[10,100],"nice":false,"zero":false},"axis":{"orient":"bottom","values":[12,14,16,18,22,24,26,28,32,34,36,38,42,44,46,48,52,54,56,58,62,64,66,68,72,74,76,78,82,84,86,88,92,94,96,98],"tickSize":-2.5,"labels":false,"title":null}},
                 "y":{"field":"r","type":"quantitative","scale":{"domain":[0.2,1.55],"nice":false,"zero":false},"axis":{"orient":"left","values":[0.25,0.3,0.35,0.45,0.5,0.55,0.65,0.7,0.75,0.85,0.9,0.95,1.05,1.1,1.15,1.25,1.3,1.35,1.45,1.5],"tickSize":-2.5,"labels":false,"title":null}}}},
    {"data":{"name":"rpPb"},"mark":{"type":"point","opacity":0},
     "encoding":{"x":{"field":"pt","type":"quantitative","scale":{"domain":[10,100],"nice":false,"zero":false},"axis":{"orient":"top","values":[10,20,30,40,50,60,70,80,90,100],"tickSize":-5,"labels":false,"title":null}},
                 "y":{"field":"r","type":"quantitative","scale":{"domain":[0.2,1.55],"nice":false,"zero":false},"axis":{"orient":"right","values":[0.2,0.4,0.6,0.8,1.0,1.2,1.4],"tickSize":-5,"labels":false,"title":null}}}},
    {"data":{"name":"rpPb"},"mark":{"type":"point","opacity":0},
     "encoding":{"x":{"field":"pt","type":"quantitative","scale":{"domain":[10,100],"nice":false,"zero":false},"axis":{"orient":"top","values":[12,14,16,18,22,24,26,28,32,34,36,38,42,44,46,48,52,54,56,58,62,64,66,68,72,74,76,78,82,84,86,88,92,94,96,98],"tickSize":-2.5,"labels":false,"title":null}},
                 "y":{"field":"r","type":"quantitative","scale":{"domain":[0.2,1.55],"nice":false,"zero":false},"axis":{"orient":"right","values":[0.25,0.3,0.35,0.45,0.5,0.55,0.65,0.7,0.75,0.85,0.9,0.95,1.05,1.1,1.15,1.25,1.3,1.35,1.45,1.5],"tickSize":-2.5,"labels":false,"title":null}}}},
    {"data":{"name":"ref"},"mark":{"type":"rule","color":"black","strokeWidth":1.5,"strokeDash":[8,5]},
     "encoding":{"y":{"field":"v","type":"quantitative","scale":{"domain":[0.2,1.55],"nice":false,"zero":false},"axis":null}}},
    {"data":{"name":"legBR"},"mark":{"type":"rule","color":"black","strokeWidth":2.2},
     "encoding":{"x":{"field":"x1","type":"quantitative","scale":{"domain":[10,100],"nice":false,"zero":false},"axis":null},"x2":{"field":"x2"},"y":{"field":"y","type":"quantitative","scale":{"domain":[0.2,1.55],"nice":false,"zero":false},"axis":null}}},
    {"data":{"name":"tBR"},"transform":[{"filter":"datum.k=='n'"}],"mark":{"type":"text","align":"left","baseline":"middle","fontSize":18.5,"font":"Liberation Sans","color":"black"},
     "encoding":{"x":{"field":"x","type":"quantitative","scale":{"domain":[10,100],"nice":false,"zero":false},"axis":null},"y":{"field":"y","type":"quantitative","scale":{"domain":[0.2,1.55],"nice":false,"zero":false},"axis":null},"text":{"field":"t"}}},
    {"data":{"name":"tBR"},"transform":[{"filter":"datum.k=='sup'"}],"mark":{"type":"text","align":"left","baseline":"middle","fontSize":12.5,"dy":-7,"font":"Liberation Sans","color":"black"},
     "encoding":{"x":{"field":"x","type":"quantitative","scale":{"domain":[10,100],"nice":false,"zero":false},"axis":null},"y":{"field":"y","type":"quantitative","scale":{"domain":[0.2,1.55],"nice":false,"zero":false},"axis":null},"text":{"field":"t"}}},
    {"data":{"name":"tBR"},"transform":[{"filter":"datum.k=='sub'"}],"mark":{"type":"text","align":"left","baseline":"middle","fontSize":12.5,"dy":6,"font":"Liberation Sans","color":"black"},
     "encoding":{"x":{"field":"x","type":"quantitative","scale":{"domain":[10,100],"nice":false,"zero":false},"axis":null},"y":{"field":"y","type":"quantitative","scale":{"domain":[0.2,1.55],"nice":false,"zero":false},"axis":null},"text":{"field":"t"}}},
    {"data":{"name":"tBR"},"transform":[{"filter":"datum.k=='rn'"}],"mark":{"type":"text","align":"left","baseline":"middle","angle":270,"fontSize":19,"font":"Liberation Sans","color":"black"},
     "encoding":{"x":{"field":"x","type":"quantitative","scale":{"domain":[10,100],"nice":false,"zero":false},"axis":null},"y":{"field":"y","type":"quantitative","scale":{"domain":[0.2,1.55],"nice":false,"zero":false},"axis":null},"text":{"field":"t"}}},
    {"data":{"name":"tBR"},"transform":[{"filter":"datum.k=='rsup'"}],"mark":{"type":"text","align":"left","baseline":"middle","angle":270,"fontSize":11,"dy":-10,"font":"Liberation Sans","color":"black"},
     "encoding":{"x":{"field":"x","type":"quantitative","scale":{"domain":[10,100],"nice":false,"zero":false},"axis":null},"y":{"field":"y","type":"quantitative","scale":{"domain":[0.2,1.55],"nice":false,"zero":false},"axis":null},"text":{"field":"t"}}},
    {"data":{"name":"tBR"},"transform":[{"filter":"datum.k=='rsub'"}],"mark":{"type":"text","align":"left","baseline":"middle","angle":270,"fontSize":11,"dy":3,"font":"Liberation Sans","color":"black"},
     "encoding":{"x":{"field":"x","type":"quantitative","scale":{"domain":[10,100],"nice":false,"zero":false},"axis":null},"y":{"field":"y","type":"quantitative","scale":{"domain":[0.2,1.55],"nice":false,"zero":false},"axis":null},"text":{"field":"t"}}}
   ]}
]
}
